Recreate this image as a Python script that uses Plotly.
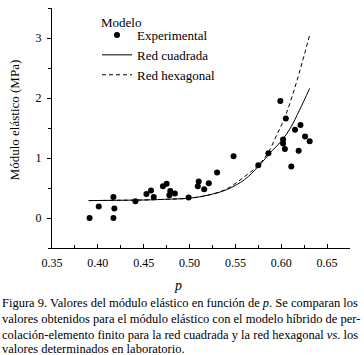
import plotly.graph_objects as go

# Experimental data
exp_p = [0.391, 0.401, 0.417, 0.418, 0.417, 0.441, 0.453, 0.458, 0.461, 0.471,
         0.475, 0.479, 0.478, 0.484, 0.499, 0.510, 0.509, 0.516, 0.521, 0.530,
         0.548, 0.575, 0.586, 0.602, 0.602, 0.604, 0.605, 0.611, 0.615, 0.619,
         0.621, 0.626, 0.631, 0.599]
exp_E = [0.00, 0.19, 0.35, 0.16, 0.00, 0.28, 0.40, 0.46, 0.35, 0.53,
         0.57, 0.45, 0.38, 0.41, 0.34, 0.61, 0.53, 0.48, 0.58, 0.76,
         1.03, 0.88, 1.08, 1.31, 1.24, 1.15, 1.66, 0.86, 1.47, 1.12,
         1.55, 1.36, 1.28, 1.95]

# Red cuadrada (model curve)
sq_p = [0.39, 0.42, 0.45, 0.48, 0.50, 0.52, 0.54, 0.56, 0.575, 0.59, 0.60, 0.61, 0.62, 0.631]
sq_E = [0.29, 0.295, 0.30, 0.315, 0.33, 0.38, 0.47, 0.64, 0.86, 1.12, 1.28, 1.50, 1.80, 2.16]

# Red hexagonal (model curve)
hx_p = [0.39, 0.42, 0.45, 0.48, 0.50, 0.52, 0.54, 0.56, 0.575, 0.585, 0.595, 0.605, 0.615, 0.623, 0.631]
hx_E = [0.29, 0.295, 0.30, 0.315, 0.33, 0.38, 0.48, 0.69, 0.88, 1.07, 1.38, 1.72, 2.18, 2.60, 3.05]

x_ticks = [0.35, 0.40, 0.45, 0.50, 0.55, 0.60, 0.65]
y_ticks = [0, 1, 2, 3]

caption_lines = [
    "Figura 9. Valores del módulo elástico en función de <i>p</i>. Se comparan los",
    "valores obtenidos para el módulo elástico con el modelo híbrido de per-",
    "colación-elemento finito para la red cuadrada y la red hexagonal <i>vs</i>. los",
    "valores determinados en laboratorio.",
]

FONT = "Liberation Serif"

fig = go.Figure()
fig.add_trace(go.Scatter(x=exp_p, y=exp_E, mode="markers", name="Experimental",
                         marker=dict(color="black", size=6)))
fig.add_trace(go.Scatter(x=sq_p, y=sq_E, mode="lines", name="Red cuadrada",
                         line=dict(color="black", width=1, shape="spline")))
fig.add_trace(go.Scatter(x=hx_p, y=hx_E, mode="lines", name="Red hexagonal",
                         line=dict(color="black", width=1, dash="4px,3px", shape="spline")))

fig.update_layout(
    width=364, height=355,
    margin=dict(l=52, r=14, t=8, b=107, autoexpand=False),
    paper_bgcolor="white", plot_bgcolor="white",
    font=dict(family=FONT, size=12, color="black"),
    showlegend=True,
    legend=dict(font=dict(size=13),
                x=(97 - 52) / 298, y=1 - 12 / 240, xanchor="left", yanchor="top",
                bgcolor="rgba(0,0,0,0)", tracegroupgap=0, itemwidth=30),
    xaxis=dict(range=[0.35, 0.675], tickvals=x_ticks, ticktext=[f"{v:.2f}" for v in x_ticks],
               showgrid=False, zeroline=False, showline=True, linecolor="black", linewidth=1,
               ticks="inside", ticklen=4, tickcolor="black", ticklabelstandoff=4,
               minor=dict(ticks="inside", ticklen=3, dtick=0.025, tick0=0.35, tickcolor="black"),
               tickfont=dict(size=12)),
    yaxis=dict(range=[-0.5, 3.5], tickvals=y_ticks,
               showgrid=False, zeroline=False, showline=True, linecolor="black", linewidth=1,
               ticks="outside", ticklen=4, tickcolor="black", ticklabelstandoff=3,
               minor=dict(ticks="outside", ticklen=3, dtick=0.5, tick0=-0.5, tickcolor="black"),
               tickfont=dict(size=12)),
)

fig.add_annotation(text="Modelo", xref="paper", yref="paper",
                   x=(99 - 52) / 298, y=(248 - 22) / 240, xanchor="left", yanchor="middle",
                   showarrow=False, font=dict(size=13))
fig.add_annotation(text="Módulo elástico (MPa)", xref="paper", yref="paper",
                   x=-0.125, y=0.535, xanchor="center", yanchor="middle", textangle=-90,
                   showarrow=False, font=dict(size=13))
fig.add_annotation(text="<i>p</i>", xref="paper", yref="paper",
                   x=(178 - 52) / 298, y=-(285 - 248) / 240, xanchor="center", yanchor="middle",
                   showarrow=False, font=dict(size=14))

caption_y = [303, 319, 335, 349]
for line, y_px in zip(caption_lines, caption_y):
    fig.add_annotation(text=line, xref="paper", yref="paper",
                       x=-52 / 298, y=-(y_px - 248) / 240, xanchor="left", yanchor="middle",
                       showarrow=False, font=dict(size=12.5))

fig.write_html("out.html", config={"displayModeBar": False},
               post_script="document.body.style.margin='0';document.body.style.padding='0';")
